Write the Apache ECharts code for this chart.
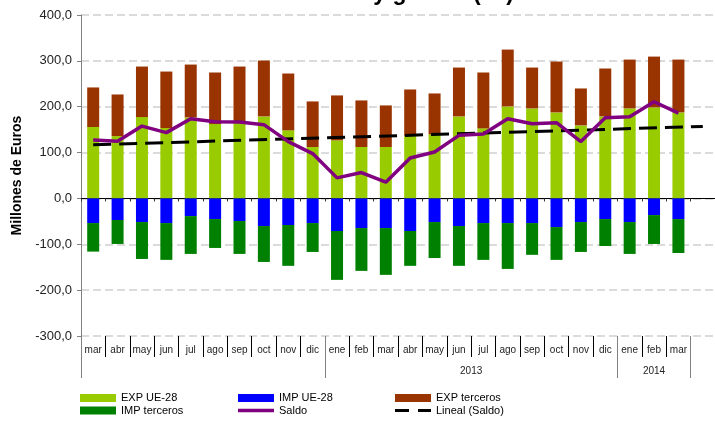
<!DOCTYPE html>
<html>
<head>
<meta charset="utf-8">
<script src="https://cdn.jsdelivr.net/npm/echarts@6/dist/echarts.min.js"></script>
<style>
  html, body { margin: 0; padding: 0; background: #fff; }
  #chart { width: 715px; height: 421px; }
</style>
</head>
<body>
<div id="chart"></div>
<script>
// Monthly trade balance, March 2012 – March 2014 (millions of euros)
const months = ['mar','abr','may','jun','jul','ago','sep','oct','nov','dic',
                'ene','feb','mar','abr','may','jun','jul','ago','sep','oct','nov','dic',
                'ene','feb','mar'];
const yearLabels = ['', '2013', '2014'];
const yearLengths = [10, 12, 3];

const expUE       = [155.7, 136.0, 177.4, 153.5, 176.7, 162.2, 166.5, 178.9, 148.5, 112.2,
                     126.7, 112.2, 112.2, 136.0, 139.8, 178.9, 152.8, 200.7, 196.3, 187.6, 159.3, 178.9,
                     196.3, 198.5, 187.6];
const expTerceros = [86.3, 90.7, 110.2, 123.2, 115.2, 112.4, 121.1, 121.8, 123.9, 99.3,
                     97.9, 101.5, 90.6, 101.6, 89.1, 106.5, 121.8, 123.9, 89.1, 110.9, 80.5, 104.4,
                     106.5, 110.8, 115.2];
const impUE       = [-53.7, -47.0, -51.5, -53.7, -38.5, -45.0, -49.3, -60.2, -58.0, -53.7,
                     -71.0, -64.6, -64.6, -71.0, -51.5, -60.2, -53.7, -53.7, -53.7, -62.4, -51.5, -45.0,
                     -51.5, -36.3, -45.0];
const impTerceros = [-62.3, -52.3, -80.5, -80.3, -82.5, -63.0, -71.7, -78.3, -89.0, -63.0,
                     -106.6, -93.4, -102.1, -76.0, -78.5, -86.8, -80.3, -100.0, -69.3, -71.6, -65.2, -58.7,
                     -69.5, -63.0, -74.0];
const saldo       = [127.4, 124.6, 157.8, 143.5, 173.9, 167.4, 166.5, 160.9, 123.9, 97.8,
                     44.8, 56.5, 35.4, 88.3, 101.3, 137.6, 140.4, 173.9, 163.0, 165.2, 123.9, 176.1,
                     178.3, 210.9, 186.1];
// linear trend of the balance: value at the first month and one month past the last
const trendEnds = [117, 157];

const yMin = -300, yMax = 400, yStep = 100;

// the value axis spans one extra (empty) month so the trend can run past March 2014
const slots = months.concat(['']);
const trend = slots.map((_, i) => i === 0 ? trendEnds[0] : (i === slots.length - 1 ? trendEnds[1] : null));

// year group boundaries and label centres along the month axis
const yearBounds = [0];
yearLengths.forEach(n => yearBounds.push(yearBounds[yearBounds.length - 1] + n));
const yearCentres = yearLengths.map((n, i) => yearBounds[i] + n / 2);

const GRID_LEFT = 81, GRID_TOP = 15, GRID_BOTTOM = 85;
const chartW = 715;
const bandW = (chartW - GRID_LEFT) / slots.length;

const narrow = "'Liberation Sans Narrow', 'Arial Narrow', 'Liberation Sans', Arial, sans-serif";
const sans = "'Liberation Sans', Arial, sans-serif";

const legendBase = {
  orient: 'vertical', top: 392, padding: 0, itemGap: 0.5,
  itemWidth: 36, itemHeight: 8,
  textStyle: { fontFamily: narrow, fontSize: 11, lineHeight: 12, color: '#000' }
};
// flat legend keys: a thick stroke for the balance, two dashes for its trend
const saldoKey = 'path://M0,0h36v3.5h-36z';
const trendKey = 'path://M0,0h14v3h-14z M23,0h13v3h-13z';

const chart = echarts.init(document.getElementById('chart'), null, { renderer: 'canvas' });
chart.setOption({
  animation: false,
  backgroundColor: '#fff',
  title: {
    text: 'Aceites y grasas (15)', left: 285, top: -17.5, padding: 0,
    textStyle: { fontFamily: sans, fontSize: 23, fontWeight: 'bold', color: '#000' }
  },
  legend: [
    Object.assign({ left: 80, data: [
      { name: 'EXP UE-28', icon: 'rect' }, { name: 'IMP terceros', icon: 'rect' }] }, legendBase),
    Object.assign({ left: 238, data: [
      { name: 'IMP UE-28', icon: 'rect' }, { name: 'Saldo', icon: saldoKey }] }, legendBase),
    Object.assign({ left: 395, data: [
      { name: 'EXP terceros', icon: 'rect' }, { name: 'Lineal (Saldo)', icon: trendKey }] }, legendBase)
  ],
  grid: [
    { left: GRID_LEFT, right: 0, top: GRID_TOP, bottom: GRID_BOTTOM },
    { left: GRID_LEFT, right: bandW, top: GRID_TOP, bottom: GRID_BOTTOM }
  ],
  xAxis: [
    {
      type: 'category', gridIndex: 0, data: slots,
      axisLine: { onZero: true, lineStyle: { color: '#000', width: 1 } },
      axisTick: { show: true, interval: 0, length: 3, lineStyle: { color: '#333' } },
      axisLabel: { show: false }
    },
    {
      type: 'category', gridIndex: 1, data: months, position: 'bottom',
      axisLine: { show: false, onZero: false },
      axisTick: { show: true, interval: 0, length: 21, lineStyle: { color: '#000' } },
      axisLabel: { interval: 0, margin: 9, fontFamily: sans, fontSize: 10, color: '#222' }
    },
    {
      type: 'value', gridIndex: 1, min: 0, max: months.length, position: 'bottom',
      axisLine: { show: false, onZero: false },
      splitLine: { show: false },
      axisTick: { show: true, customValues: yearBounds, length: 42, lineStyle: { color: '#808080' } },
      axisLabel: {
        customValues: yearCentres, margin: 30, fontFamily: sans, fontSize: 10, color: '#222',
        formatter: v => yearLabels[yearCentres.indexOf(v)] || ''
      }
    }
  ],
  yAxis: [
    {
      type: 'value', gridIndex: 0, min: yMin, max: yMax, interval: yStep,
      name: 'Millones de Euros', nameLocation: 'middle', nameGap: 57,
      nameTextStyle: { fontFamily: sans, fontSize: 14, fontWeight: 'bold', color: '#000' },
      axisLine: { show: true, lineStyle: { color: '#808080', width: 1 } },
      axisTick: { show: true, length: 4, lineStyle: { color: '#808080' } },
      axisLabel: {
        margin: 9, fontFamily: sans, fontSize: 13, color: '#222',
        formatter: v => v.toFixed(1).replace('.', ',')
      },
      splitLine: { show: true, lineStyle: { color: '#cfcfcf', width: 1.5, type: [8, 4] } }
    },
    { type: 'value', gridIndex: 1, min: yMin, max: yMax, show: false }
  ],
  series: [
    { name: 'EXP UE-28', type: 'bar', stack: 'comercio', data: expUE, barWidth: 12,
      itemStyle: { color: '#99CC00' } },
    { name: 'IMP UE-28', type: 'bar', stack: 'comercio', data: impUE, barWidth: 12,
      itemStyle: { color: '#0000FF' } },
    { name: 'EXP terceros', type: 'bar', stack: 'comercio', data: expTerceros, barWidth: 12,
      itemStyle: { color: '#993300' } },
    { name: 'IMP terceros', type: 'bar', stack: 'comercio', data: impTerceros, barWidth: 12,
      itemStyle: { color: '#008000' } },
    { name: 'Saldo', type: 'line', data: saldo, symbol: 'none', z: 5,
      lineStyle: { color: '#800080', width: 3.5 }, itemStyle: { color: '#800080' } },
    { name: 'Lineal (Saldo)', type: 'line', data: trend, connectNulls: true, symbol: 'none', z: 4,
      lineStyle: { color: '#000', width: 3, type: [18, 8], cap: 'butt' }, itemStyle: { color: '#000' } }
  ]
});
</script>
</body>
</html>
